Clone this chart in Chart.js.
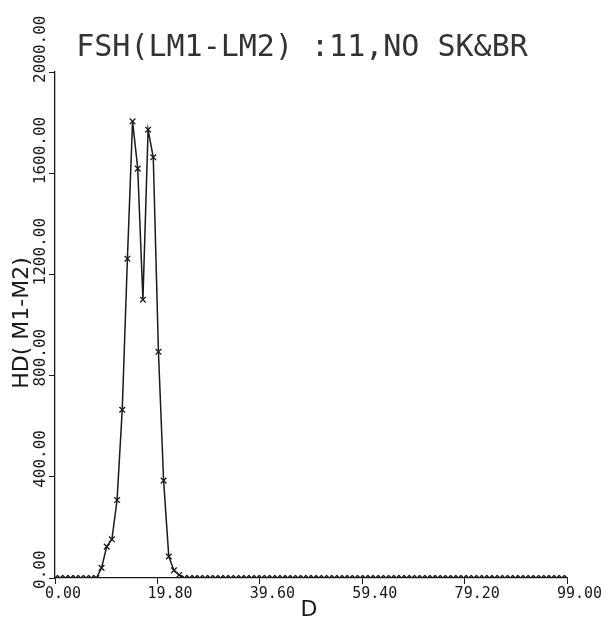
<!DOCTYPE html>
<html>
<head>
<meta charset="utf-8">
<script src="https://cdn.jsdelivr.net/npm/chart.js@4"></script>
<style>
  html, body { margin: 0; padding: 0; background: #fff; }
  #wrap { width: 608px; height: 619px; }
</style>
</head>
<body>
<div id="wrap"><canvas id="graficaHD"></canvas></div>
<script>
const chartTitle = 'FSH(LM1-LM2) :11,NO SK&BR';
const xTitle = 'D';
const yTitle = 'HD( M1-M2)';

const dValues = [
  0, 1, 2, 3, 4, 5, 6, 7, 8, 9,
  10, 11, 12, 13, 14, 15, 16, 17, 18, 19,
  20, 21, 22, 23, 24, 25, 26, 27, 28, 29,
  30, 31, 32, 33, 34, 35, 36, 37, 38, 39,
  40, 41, 42, 43, 44, 45, 46, 47, 48, 49,
  50, 51, 52, 53, 54, 55, 56, 57, 58, 59,
  60, 61, 62, 63, 64, 65, 66, 67, 68, 69,
  70, 71, 72, 73, 74, 75, 76, 77, 78, 79,
  80, 81, 82, 83, 84, 85, 86, 87, 88, 89,
  90, 91, 92, 93, 94, 95, 96, 97, 98, 99
];
const hdValues = [
  0, 0, 0, 0, 0, 0, 0, 0, 0, 40,
  124, 153, 308, 665, 1262, 1805, 1618, 1100, 1772, 1663,
  894, 385, 85, 30, 12, 0, 0, 0, 0, 0,
  0, 0, 0, 0, 0, 0, 0, 0, 0, 0,
  0, 0, 0, 0, 0, 0, 0, 0, 0, 0,
  0, 0, 0, 0, 0, 0, 0, 0, 0, 0,
  0, 0, 0, 0, 0, 0, 0, 0, 0, 0,
  0, 0, 0, 0, 0, 0, 0, 0, 0, 0,
  0, 0, 0, 0, 0, 0, 0, 0, 0, 0,
  0, 0, 0, 0, 0, 0, 0, 0, 0, 0
];
const xTicks = [0, 19.8, 39.6, 59.4, 79.2, 99];
const yTicks = [0, 400, 800, 1200, 1600, 2000];

const ink = '#1a1a1a';
const monoFont = '"DejaVu Sans Mono", "Liberation Mono", monospace';
const sansFont = '"DejaVu Sans", "Liberation Sans", sans-serif';

// texts drawn by hand so they sit where the plotter put them
const plotterText = {
  id: 'plotterText',
  afterDraw(chart) {
    const ctx = chart.ctx;
    const xs = chart.scales.x;
    const ys = chart.scales.y;
    ctx.save();
    ctx.fillStyle = ink;

    ctx.fillStyle = '#333';
    ctx.font = '30px ' + monoFont;
    ctx.textAlign = 'center';
    ctx.textBaseline = 'middle';
    ctx.fillText(chartTitle, 302, 48);
    ctx.fillStyle = ink;

    ctx.font = '15px ' + monoFont;
    ctx.textAlign = 'left';
    xTicks.forEach((v) => {
      ctx.fillText(v.toFixed(2), xs.getPixelForValue(v) - 10, 594);
    });

    ctx.font = '16px ' + monoFont;
    yTicks.forEach((v) => {
      ctx.save();
      ctx.translate(41, ys.getPixelForValue(v) + 11);
      ctx.rotate(-Math.PI / 2);
      ctx.fillText(v.toFixed(2), 0, 0);
      ctx.restore();
    });

    ctx.font = '22px ' + sansFont;
    ctx.textAlign = 'center';
    ctx.fillText(xTitle, 309, 610);

    ctx.save();
    ctx.translate(22, 323);
    ctx.rotate(-Math.PI / 2);
    ctx.fillText(yTitle, 0, 0);
    ctx.restore();

    ctx.restore();
  }
};

let hd = document.getElementById('graficaHD');
let graficaHD = new Chart(hd, {
  type: 'line',
  data: {
    datasets: [{
      label: 'HD',
      data: dValues.map((d, i) => ({ x: d, y: hdValues[i] })),
      borderColor: ink,
      borderWidth: 1.5,
      tension: 0,
      pointStyle: 'crossRot',
      pointRadius: 4,
      pointBorderWidth: 1.3,
      pointBorderColor: ink,
      pointBackgroundColor: ink
    }]
  },
  options: {
    animation: false,
    responsive: true,
    maintainAspectRatio: false,
    layout: {
      padding: { top: 72, right: 41, left: 0, bottom: 0 }
    },
    plugins: {
      legend: { display: false },
      tooltip: { enabled: false }
    },
    scales: {
      x: {
        type: 'linear',
        min: 0,
        max: 99,
        afterBuildTicks: (s) => { s.ticks = xTicks.map((v) => ({ value: v })); },
        afterFit: (s) => { s.height = 41; },
        ticks: { display: false },
        grid: { drawOnChartArea: false, drawTicks: true, tickLength: 6, color: ink },
        border: { color: ink, width: 1.3 }
      },
      y: {
        min: 0,
        max: 2000,
        afterBuildTicks: (s) => { s.ticks = yTicks.map((v) => ({ value: v })); },
        afterFit: (s) => { s.width = 55; },
        ticks: { display: false },
        grid: { drawOnChartArea: false, drawTicks: true, tickLength: 6, color: ink },
        border: { color: ink, width: 1.3 }
      }
    }
  },
  plugins: [plotterText]
});
</script>
</body>
</html>
